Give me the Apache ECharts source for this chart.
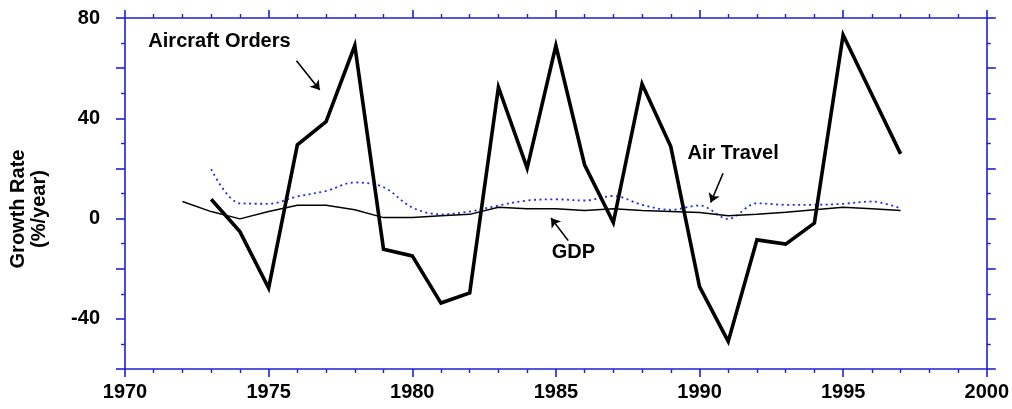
<!DOCTYPE html>
<html>
<head>
<meta charset="utf-8">
<script src="https://cdn.jsdelivr.net/npm/echarts@6/dist/echarts.min.js"></script>
<style>
  html, body { margin: 0; padding: 0; background: #ffffff; }
  #chart { width: 1012px; height: 409px; }
</style>
</head>
<body>
<div id="chart"></div>
<script>
// Annual growth rates (%/year)
const aircraftYears = [1973, 1974, 1975, 1976, 1977, 1978, 1979, 1980, 1981, 1982, 1983, 1984, 1985,
                       1986, 1987, 1988, 1989, 1990, 1991, 1992, 1993, 1994, 1995, 1996, 1997];
const aircraftOrders = [7.7, -5.2, -27.7, 29.4, 38.7, 69, -12.2, -14.9, -33.7, -29.7, 52.4, 20.1, 69,
                        21.4, -1.6, 53.7, 28.7, -27.1, -49, -8.5, -10.2, -1.8, 73.2, 49.5, 25.8];

const gdpYears = [1972, 1973, 1974, 1975, 1976, 1977, 1978, 1979, 1980, 1981, 1982, 1983, 1984,
                  1985, 1986, 1987, 1988, 1989, 1990, 1991, 1992, 1993, 1994, 1995, 1996, 1997];
const gdp = [6.8, 2.8, -0.1, 2.8, 5.3, 5.3, 3.5, 0.4, 0.4, 1.1, 1.7, 4.5, 3.9,
             3.9, 3.2, 3.9, 3.2, 2.8, 2.4, 1.1, 1.7, 2.5, 3.5, 4.5, 3.9, 3.2];

const airTravelYears = [1973, 1974, 1975, 1976, 1977, 1978, 1979, 1980, 1981, 1982, 1983, 1984, 1985,
                        1986, 1987, 1988, 1989, 1990, 1991, 1992, 1993, 1994, 1995, 1996, 1997];
const airTravel = [19.7, 6.1, 5.9, 8.8, 11.0, 14.4, 12.5, 4.4, 1.7, 2.8, 5.2, 7.2, 7.7,
                   7.2, 9.0, 5.5, 3.5, 5.2, -0.1, 6.1, 5.5, 5.5, 5.9, 6.8, 4.1];

// Axis ranges and labelled ticks
const xRange = [1970, 2000];
const yRange = [-60, 80];
const yLabelled = [80, 40, 0, -40];

// Series callouts: label position and arrow (from -> to), in data units
const callouts = [
  { text: 'Aircraft Orders', at: [1973.29, 70.8], from: [1975.97, 62.9], to: [1976.78, 51.3] },
  { text: 'Air Travel',      at: [1991.17, 26.0], from: [1990.82, 18.1], to: [1990.39, 6.4] },
  { text: 'GDP',             at: [1985.61, -13.7], from: [1985.43, -8.8], to: [1984.83, 0.2] }
];

const pairs = (xs, ys) => xs.map((x, i) => [x, ys[i]]);

const FONT = "'Liberation Sans', Arial, sans-serif";
const AXIS_BLUE = '#2020d4';

const chart = echarts.init(document.getElementById('chart'), null, { renderer: 'canvas' });

const xCommon = {
  type: 'value', min: xRange[0], max: xRange[1], interval: 5,
  axisLine: { show: true, onZero: false, lineStyle: { color: AXIS_BLUE, width: 1.6 } },
  axisTick: { show: true, length: 8, lineStyle: { color: AXIS_BLUE, width: 1.6 } },
  minorTick: { show: true, splitNumber: 5, length: 4, lineStyle: { color: AXIS_BLUE, width: 1.4 } },
  splitLine: { show: false }
};
const yCommon = {
  type: 'value', min: yRange[0], max: yRange[1], interval: 20,
  axisLine: { show: true, onZero: false, lineStyle: { color: AXIS_BLUE, width: 1.6 } },
  axisTick: { show: true, length: 9, lineStyle: { color: AXIS_BLUE, width: 1.6 } },
  minorTick: { show: true, splitNumber: 2, length: 4, lineStyle: { color: AXIS_BLUE, width: 1.4 } },
  splitLine: { show: false }
};

chart.setOption({
  animation: false,
  backgroundColor: '#ffffff',
  grid: { left: 125, right: 24, top: 18, bottom: 40, containLabel: false },
  xAxis: [
    Object.assign({}, xCommon, {
      position: 'bottom',
      axisLabel: {
        show: true, color: '#000', fontFamily: FONT, fontWeight: 'bold', fontSize: 20, margin: 13,
        formatter: v => String(v)
      }
    }),
    Object.assign({}, xCommon, { position: 'top', axisLabel: { show: false } })
  ],
  yAxis: [
    Object.assign({}, yCommon, {
      position: 'left',
      axisLabel: {
        show: true, color: '#000', fontFamily: FONT, fontWeight: 'bold', fontSize: 20, margin: 25,
        formatter: v => (yLabelled.indexOf(v) >= 0 ? String(v) : '')
      }
    }),
    Object.assign({}, yCommon, { position: 'right', axisLabel: { show: false } })
  ],
  graphic: [{
    type: 'text',
    x: 29, y: 209,
    rotation: Math.PI / 2,
    style: {
      text: 'Growth Rate\n(%/year)',
      fill: '#000', font: "bold 20px 'Liberation Sans', Arial, sans-serif",
      align: 'center', verticalAlign: 'middle', lineHeight: 21
    }
  }],
  series: [
    {
      name: 'Air Travel', type: 'line', data: pairs(airTravelYears, airTravel),
      smooth: 0.35, symbol: 'none',
      lineStyle: { color: '#1c2ee0', width: 1.8, type: [2, 3.5] },
      z: 2
    },
    {
      name: 'GDP', type: 'line', data: pairs(gdpYears, gdp),
      symbol: 'none',
      lineStyle: { color: '#000', width: 1.4 },
      z: 3
    },
    {
      name: 'Aircraft Orders', type: 'line', data: pairs(aircraftYears, aircraftOrders),
      symbol: 'none',
      lineStyle: { color: '#000', width: 3.6, join: 'miter' },
      z: 4,
      markPoint: {
        silent: true,
        symbol: 'circle', symbolSize: 1,
        itemStyle: { color: 'rgba(0,0,0,0)' },
        label: {
          show: true, position: 'inside', color: '#000',
          fontFamily: FONT, fontWeight: 'bold', fontSize: 20,
          formatter: p => p.name
        },
        data: callouts.map(c => ({ name: c.text, coord: c.at }))
      },
      markLine: {
        silent: true,
        symbol: ['none', 'arrow'], symbolSize: 9,
        label: { show: false },
        lineStyle: { color: '#000', width: 1.6, type: 'solid' },
        data: callouts.map(c => [{ coord: c.from }, { coord: c.to }])
      }
    }
  ]
});
</script>
</body>
</html>
